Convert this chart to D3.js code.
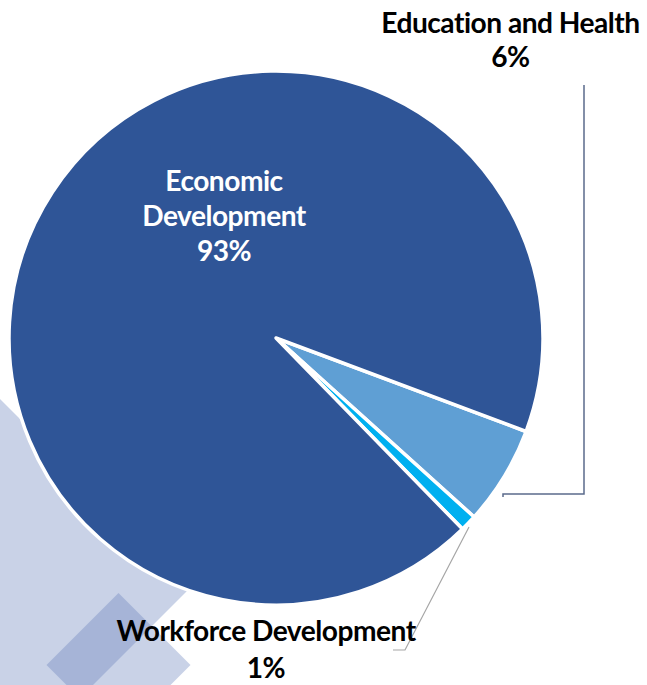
<!DOCTYPE html>
<html>
<head>
<meta charset="utf-8">
<script src="https://cdn.jsdelivr.net/npm/d3@7"></script>
<style>
  html, body { margin: 0; padding: 0; background: #ffffff; }
  svg { display: block; }
  text { font-family: Lato, "Open Sans", sans-serif; font-weight: 700; }
</style>
</head>
<body>
<svg id="chart" width="647" height="685"></svg>
<script>
// Share of funding by program area (percent)
const categories = ["Education and Health", "Workforce Development", "Economic Development"];
const values = [6, 1, 93];
const valueLabels = ["6%", "1%", "93%"];
const sliceColors = ["#5f9fd4", "#00b0f0", "#2f5597"];

const W = 647, H = 685;
const cx = 276, cy = 338, radius = 267;

const svg = d3.select("#chart");

// Decorative translucent backdrop: a diagonal band and a rotated square
const deco = svg.append("g").attr("fill", "rgb(101,126,186)").attr("fill-opacity", 0.35);
deco.append("polygon")
  .attr("points", [[0, 399], [189.5, 588.5], [82, 696], [0, 696]].map(p => p.join(",")).join(" "));
deco.append("polygon")
  .attr("points", [[118.5, 593], [190.5, 665], [118.5, 737], [46.5, 665]].map(p => p.join(",")).join(" "));

// Pie
const pie = d3.pie().sort(null).value(d => d)
  .startAngle(110.5 * Math.PI / 180)
  .endAngle(110.5 * Math.PI / 180 + 2 * Math.PI);
const arcs = pie(values);
const arc = d3.arc().innerRadius(0).outerRadius(radius);

const g = svg.append("g").attr("transform", `translate(${cx},${cy})`);
g.selectAll("path.slice")
  .data(arcs)
  .join("path")
  .attr("class", "slice")
  .attr("d", arc)
  .attr("fill", (d, i) => sliceColors[i])
  .attr("stroke", "#ffffff")
  .attr("stroke-width", 3.5)
  .attr("stroke-linejoin", "round");

// Leader lines
svg.append("path")
  .attr("d", "M503,497 V494 H584 V85")
  .attr("fill", "none")
  .attr("stroke", "#5b6b8c")
  .attr("stroke-width", 1.5);
svg.append("path")
  .attr("d", "M469,527 L405,650 H393")
  .attr("fill", "none")
  .attr("stroke", "#a6a6a6")
  .attr("stroke-width", 1.2);

// Labels
const labelSpec = [
  { i: 0, x: 510.5, y: 33, dy: 34, color: "#000000", lines: [categories[0]] },
  { i: 1, x: 266, y: 641, dy: 37, color: "#000000", lines: [categories[1]] },
  { i: 2, x: 224, y: 191, dy: 35, color: "#ffffff", lines: ["Economic", "Development"] }
];

// size the font so the widest label spans its measured width,
// with slightly tightened tracking for a taller, compact look
const tracking = -0.5;
const probe = svg.append("text").attr("font-size", 20).text(categories[0]);
const w20 = probe.node().getComputedTextLength();
probe.remove();
const nChars = categories[0].length;
const fontSize = 20 * (259 - tracking * nChars) / w20;

labelSpec.forEach(s => {
  const t = svg.append("text")
    .attr("text-anchor", "middle")
    .attr("font-size", fontSize)
    .attr("letter-spacing", tracking)
    .attr("fill", s.color);
  const all = s.lines.concat([valueLabels[s.i]]);
  all.forEach((line, k) => {
    t.append("tspan").attr("x", s.x).attr("y", s.y + k * s.dy).text(line);
  });
});
</script>
</body>
</html>
